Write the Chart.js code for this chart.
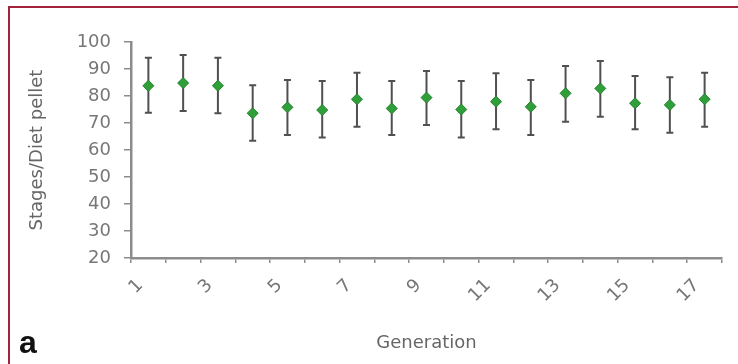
<!DOCTYPE html>
<html>
<head>
<meta charset="utf-8">
<script src="https://cdn.jsdelivr.net/npm/chart.js@4/dist/chart.umd.min.js"></script>
<style>
  html, body { margin: 0; padding: 0; background: #ffffff; }
  #wrap { position: relative; width: 738px; height: 364px; overflow: hidden; background: #ffffff; }
  #frame { position: absolute; left: 8px; top: 6px; width: 800px; height: 400px;
           border-top: 2px solid #a3233a; border-left: 2px solid #a3233a; }
  #c { position: absolute; left: 0; top: 0; }
  #panel { position: absolute; left: 19px; top: 326px; font-family: "Liberation Sans Narrow", "Liberation Sans", Arial, sans-serif;
           font-weight: bold; font-size: 32px; color: #111; line-height: 32px; }
</style>
</head>
<body>
<div id="wrap">
  <div id="frame"></div>
  <canvas id="c" width="738" height="364"></canvas>
  <div id="panel">a</div>
</div>
<script>
const generations = ["1","2","3","4","5","6","7","8","9","10","11","12","13","14","15","16","17"];
const means = [83.8, 84.8, 83.8, 73.6, 75.8, 74.8, 78.8, 75.4, 79.4, 75.0, 77.9, 76.0, 81.0, 82.8, 77.3, 76.7, 78.8];
const upper = [94.2, 95.2, 94.2, 84.0, 85.9, 85.6, 88.6, 85.6, 89.3, 85.6, 88.4, 85.9, 91.1, 93.0, 87.4, 86.9, 88.6];
const lower = [73.8, 74.4, 73.6, 63.4, 65.6, 64.6, 68.6, 65.6, 69.3, 64.6, 67.7, 65.6, 70.5, 72.3, 67.7, 66.4, 68.6];
const yTicks = [20, 30, 40, 50, 60, 70, 80, 90, 100];

const errorBars = {
  id: 'errorBars',
  beforeDatasetsDraw(chart) {
    const ctx = chart.ctx;
    const xs = chart.scales.x, ys = chart.scales.y;
    ctx.save();
    ctx.strokeStyle = '#505050';
    ctx.lineWidth = 2;
    for (let i = 0; i < means.length; i++) {
      const x = xs.getPixelForValue(i);
      const yt = ys.getPixelForValue(upper[i]);
      const yb = ys.getPixelForValue(lower[i]);
      ctx.beginPath();
      ctx.moveTo(x, yt); ctx.lineTo(x, yb);
      ctx.moveTo(x - 3.5, yt); ctx.lineTo(x + 3.5, yt);
      ctx.moveTo(x - 3.5, yb); ctx.lineTo(x + 3.5, yb);
      ctx.stroke();
    }
    ctx.restore();
  }
};

const tickFont = { family: "DejaVu Sans", size: 18 };

new Chart(document.getElementById('c'), {
  type: 'line',
  data: {
    labels: generations,
    datasets: [{
      data: means,
      showLine: false,
      pointStyle: 'rectRot',
      pointRadius: 5.5,
      pointBackgroundColor: '#2f9f3a',
      pointBorderColor: '#23802c',
      pointBorderWidth: 1
    }]
  },
  options: {
    responsive: false,
    maintainAspectRatio: false,
    animation: false,
    events: [],
    layout: { padding: { left: 17, right: 16, top: 42, bottom: 0 } },
    plugins: { legend: { display: false }, tooltip: { enabled: false } },
    scales: {
      x: {
        type: 'category',
        offset: true,
        grid: { display: true, offset: true, drawOnChartArea: false, drawTicks: true, tickLength: 5, color: '#8c8c8c', lineWidth: 1.5 },
        border: { display: true, color: '#8c8c8c', width: 2.5 },
        ticks: {
          autoSkip: false,
          minRotation: 45,
          maxRotation: 45,
          padding: 12,
          labelOffset: -8,
          color: '#777777',
          font: tickFont,
          callback: function(v, i) { return (i % 2 === 0) ? generations[i] : ''; }
        },
        title: { display: true, text: 'Generation', color: '#666666', font: { family: "DejaVu Sans", size: 18 }, padding: { top: 0, bottom: 10 } },
        afterFit(scale) { scale.height = 106; }
      },
      y: {
        min: 20,
        max: 100,
        afterBuildTicks(scale) { scale.ticks = yTicks.map(v => ({ value: v })); },
        grid: { display: true, drawOnChartArea: false, drawTicks: true, tickLength: 7, color: '#8c8c8c', lineWidth: 1.5 },
        border: { display: true, color: '#8c8c8c', width: 2.5 },
        ticks: { padding: 13, color: '#777777', font: tickFont },
        title: { display: true, text: 'Stages/Diet pellet', color: '#666666', font: { family: "DejaVu Sans", size: 18 }, padding: { top: 10, bottom: 0 } },
        afterFit(scale) { scale.width = 114; }
      }
    }
  },
  plugins: [errorBars]
});
</script>
</body>
</html>
